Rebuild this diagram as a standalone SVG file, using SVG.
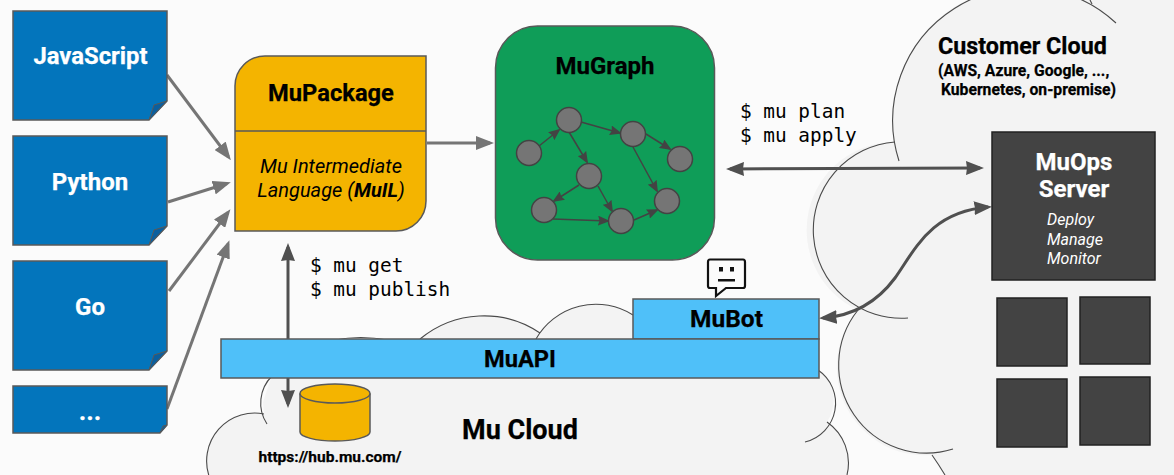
<svg xmlns="http://www.w3.org/2000/svg" width="1174" height="475" viewBox="0 0 1174 475">
<style>
text{font-family:Roboto,"Liberation Sans",sans-serif;font-weight:700;fill:#000;stroke:#000;stroke-width:.25}
.c{text-anchor:middle}
.w{fill:#fff;stroke:#fff}
.mono{font-family:"DejaVu Sans Mono","Liberation Mono",monospace;font-weight:400;font-size:19.4px;stroke:none}
.it{font-weight:400;font-style:italic;stroke:none}
.cloud{fill:#f3f3f3;stroke:none}
.arc{fill:none;stroke:#4a4a4a;stroke-width:1.1}
.doc{fill:#0375bc;stroke:#595959;stroke-width:1.5}
.fold{fill:#0b5f9e;stroke:#595959;stroke-width:1}
.api{fill:#4fc0f9;stroke:#595959;stroke-width:1.5}
.amber{fill:#f4b400;stroke:#595959;stroke-width:1.5}
.dark{fill:#434343;stroke:#222;stroke-width:1.5}
.g{fill:#757575;stroke:#434343;stroke-width:1.5}
.a1{fill:none;stroke:#757575;stroke-width:3;marker-end:url(#hg)}
.a2{fill:none;stroke:#505050;stroke-width:3;marker-end:url(#hd);marker-start:url(#hd)}
.a3{fill:none;stroke:#434343;stroke-width:1.5;marker-end:url(#hs)}
</style>
<defs>
<marker id="hg" markerUnits="userSpaceOnUse" viewBox="0 0 18 14" refX="14" refY="7" markerWidth="18" markerHeight="14" orient="auto"><path d="M0,0L18,7L0,14Z" fill="#757575"/></marker>
<marker id="hd" markerUnits="userSpaceOnUse" viewBox="0 0 18 14" refX="14" refY="7" markerWidth="18" markerHeight="14" orient="auto-start-reverse"><path d="M0,0L18,7L0,14L1,7Z" fill="#505050"/></marker>
<marker id="hs" markerUnits="userSpaceOnUse" viewBox="0 0 12 10" refX="10" refY="5" markerWidth="12" markerHeight="10" orient="auto"><path d="M0,0L12,5L0,10L1.500,5Z" fill="#434343"/></marker>
</defs>
<rect width="1174" height="475" fill="#fbfbfb"/>

<g id="customer-cloud">
<path class="cloud" d="M1174,0H967A133,133 0 0 0 899,161L895,142A88,88 0 0 0 858,310A88,88 0 0 0 932,455L945,475H1174Z"/>
<path class="arc" d="M899,161A133,133 0 0 1 1116,23"/>
<path class="arc" d="M1090,0L1092,4"/>
<path class="arc" d="M895,142A88,88 0 0 0 908,318"/>
<path class="arc" d="M858,310A88,88 0 0 0 953,449"/>
<path class="arc" d="M932,455Q939,465 945,475"/>
<text x="938" y="54" font-size="23.300">Customer Cloud</text>
<text x="938" y="76" font-size="15.700">(AWS, Azure, Google, ...,</text>
<text x="941" y="95" font-size="15.700">Kubernetes, on-premise)</text>
</g>

<g id="mu-cloud">
<path class="cloud" d="M209,476A48,48 0 0 1 264,414L263,402L271,378V339H420A100,100 0 0 1 540,333A69,69 0 0 1 633,315V339H820V370A40,40 0 0 1 827,422A50,50 0 0 1 847,475Z"/>
<path class="arc" d="M209,476A48,48 0 0 1 264,414"/>
<path class="arc" d="M267,424A38,38 0 0 1 272,376"/>
<path class="arc" d="M335,340Q360,335 388,340"/>
<path class="arc" d="M420,339A100,100 0 0 1 540,333"/>
<path class="arc" d="M536,339A69,69 0 0 1 633,315"/>
<path class="arc" d="M818,370A40,40 0 0 1 805,442"/>
<path class="arc" d="M827,422A50,50 0 0 1 847,475"/>
<text x="520" y="439" font-size="27" class="c">Mu Cloud</text>
</g>

<g id="connectors">
<path class="a1" d="M167,75L228.500,157"/>
<path class="a1" d="M168,202L227,183.500"/>
<path class="a1" d="M169,291L228,212.500"/>
<path class="a1" d="M167,409L228,244"/>
<path class="a1" d="M427,143H490"/>
<path class="a2" d="M730,169L980,168"/>
<path class="a2" d="M288,247V404"/>
<path class="a2" d="M823,318C850,316 875,305 895,278C915,250 930,212 988,207"/>
</g>

<g id="mubot">
<rect class="api" x="633" y="299" width="186" height="40"/>
<text x="726.500" y="327" font-size="24.500" class="c">MuBot</text>
</g>
<g id="muapi">
<rect class="api" x="221" y="339" width="598" height="39"/>
<text x="520" y="367" font-size="23.700" class="c">MuAPI</text>
</g>

<g id="javascript">
<path class="doc" d="M13,11H167V101L149,120H13Z"/><path class="fold" d="M149,120L154,105L167,101Z"/>
<text x="90.500" y="64" font-size="23.800" class="c w">JavaScript</text>
</g>
<g id="python">
<path class="doc" d="M13,136H167V226L149,245H13Z"/><path class="fold" d="M149,245L154,230L167,226Z"/>
<text x="90" y="190" font-size="24" class="c w">Python</text>
</g>
<g id="go">
<path class="doc" d="M13,261H167V351L149,370H13Z"/><path class="fold" d="M149,370L154,355L167,351Z"/>
<text x="90" y="315" font-size="24" class="c w">Go</text>
</g>
<g id="more">
<path class="doc" d="M13,386H167V425L160,433H13Z"/><path class="fold" d="M160,433L163,426L167,425Z"/>
<text x="90" y="420" font-size="26" class="c w">...</text>
</g>

<g id="mupackage">
<path class="amber" d="M265,56H426V201A30,30 0 0 1 396,231H235V86A30,30 0 0 1 265,56Z"/>
<path d="M235,131H426" stroke="#595959" stroke-width="1.500" fill="none"/>
<text x="331" y="101" font-size="23.700" class="c">MuPackage</text>
<text x="331" y="173" font-size="20" class="c it">Mu Intermediate</text>
<text x="331" y="197" font-size="20" class="c it">Language (<tspan font-weight="700">MuIL</tspan>)</text>
</g>

<g id="mugraph">
<rect x="495.500" y="26" width="219" height="234" rx="42" fill="#0f9d58" stroke="#595959" stroke-width="1.500"/>
<text x="605" y="74" font-size="24" class="c">MuGraph</text>
<path class="a3" d="M539,146L559,130"/>
<path class="a3" d="M581,122L620,133"/>
<path class="a3" d="M646,134L670,149"/>
<path class="a3" d="M633,147L657,191"/>
<path class="a3" d="M569,132L587,162"/>
<path class="a3" d="M579,185L554,201"/>
<path class="a3" d="M598,186L612,211"/>
<path class="a3" d="M553,219L608,221"/>
<path class="a3" d="M634,220L657,210"/>
<circle class="g" cx="529" cy="153" r="12.500"/>
<circle class="g" cx="569" cy="120" r="12.500"/>
<circle class="g" cx="633" cy="134" r="12.500"/>
<circle class="g" cx="680" cy="159" r="12.500"/>
<circle class="g" cx="589" cy="176" r="12.500"/>
<circle class="g" cx="544" cy="210" r="12.500"/>
<circle class="g" cx="621" cy="221" r="12.500"/>
<circle class="g" cx="667" cy="201" r="12.500"/>
</g>

<g id="muops-server">
<rect class="dark" x="992" y="132" width="163" height="148"/>
<text x="1074" y="170" font-size="24" class="c w">MuOps</text>
<text x="1074" y="197" font-size="24" class="c w">Server</text>
<text x="1047" y="225" font-size="16" class="w it">Deploy</text>
<text x="1047" y="245" font-size="16" class="w it">Manage</text>
<text x="1047" y="264" font-size="16" class="w it">Monitor</text>
</g>
<g id="server-1"><rect class="dark" x="997" y="298" width="70" height="68"/></g>
<g id="server-2"><rect class="dark" x="1080" y="297" width="70" height="67"/></g>
<g id="server-3"><rect class="dark" x="997" y="379" width="70" height="68"/></g>
<g id="server-4"><rect class="dark" x="1080" y="377" width="70" height="68"/></g>

<g id="hub">
<path class="amber" d="M300,393.500V432C300,437 316,441 335,441C354,441 370,437 370,432V393.500"/>
<ellipse class="amber" cx="335" cy="393.500" rx="35" ry="9.500"/>
<text x="330" y="462" font-size="15.500" class="c">https://hub.mu.com/</text>
</g>

<g id="bot-icon">
<path d="M710,259.500H743Q745,259.500 745,262V286Q745,288 743,288H726L716,296V288H710Q708,288 708,286V262Q708,259.500 710,259.500Z" fill="#fbfbfb" stroke="#111" stroke-width="2.200"/>
<rect x="719" y="267" width="4" height="4.500" fill="#111"/><rect x="730" y="267" width="4" height="4.500" fill="#111"/>
<rect x="718" y="279" width="17" height="2.500" fill="#111"/>
</g>

<g id="labels">
<text class="mono" x="310" y="272">$ mu get</text>
<text class="mono" x="310" y="296">$ mu publish</text>
<text class="mono" x="740" y="118">$ mu plan</text>
<text class="mono" x="740" y="142">$ mu apply</text>
</g>
</svg>
